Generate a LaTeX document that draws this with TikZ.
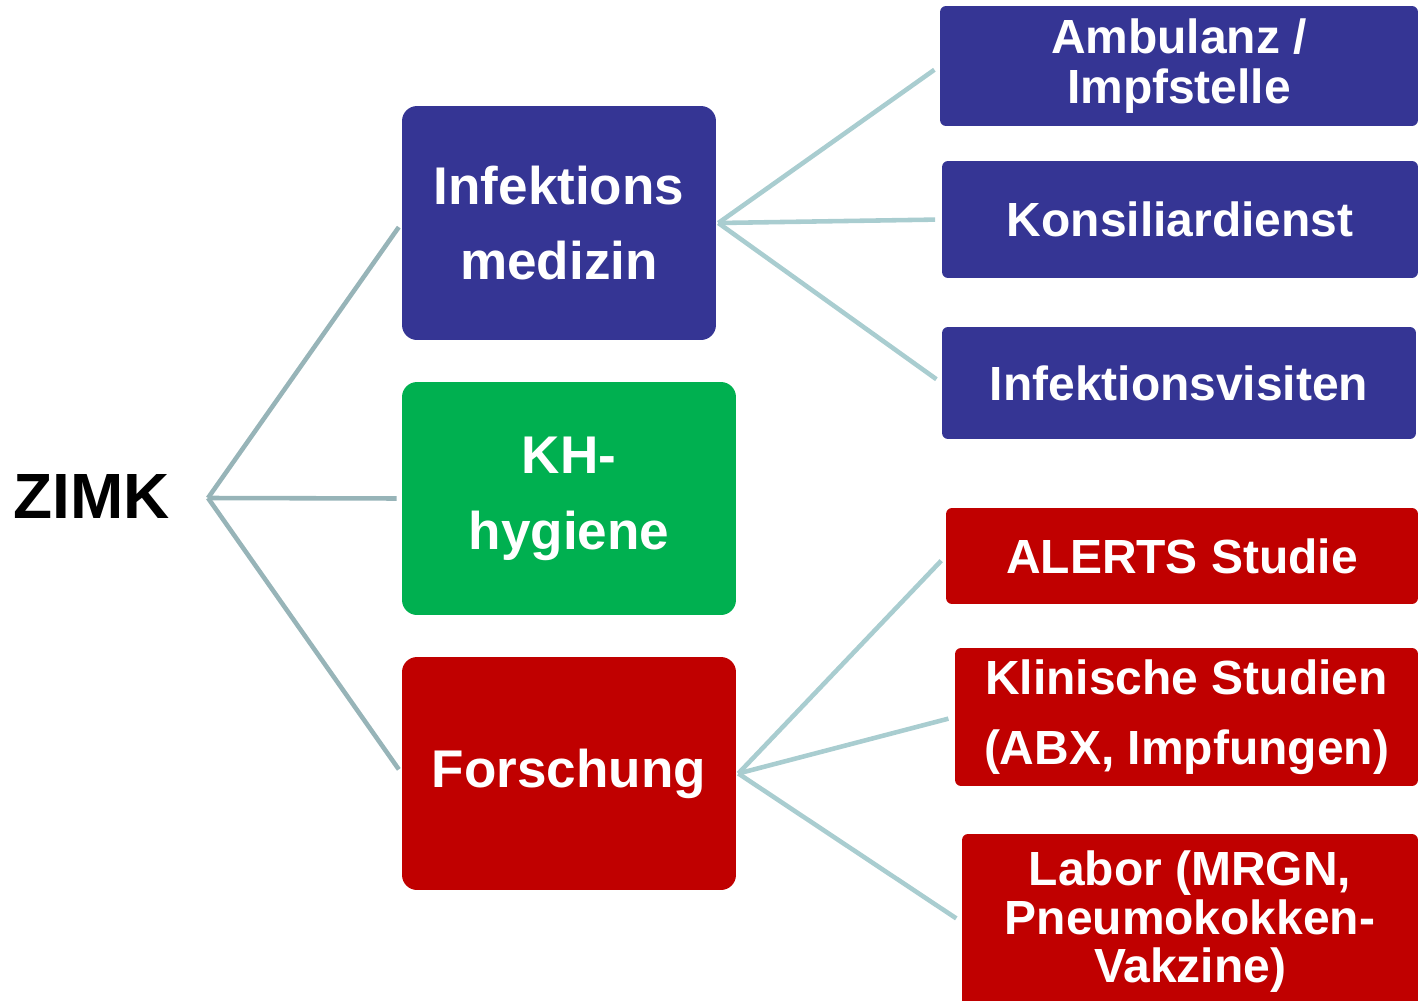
\documentclass[tikz,border=0pt]{standalone}
\usepackage{fontspec}
\setmainfont{Liberation Sans}
\usepackage{xcolor}
\usetikzlibrary{positioning,calc}

\definecolor{zblue}{HTML}{353594}
\definecolor{zgreen}{HTML}{00B050}
\definecolor{zred}{HTML}{C00000}
\definecolor{lineleft}{HTML}{97B4B8}
\definecolor{lineright}{HTML}{A9CDD0}

\begin{document}
\begin{tikzpicture}[
    x=0.02cm, y=-0.02cm,
    mainbox/.style={rectangle, rounded corners=0.3cm, inner sep=0pt, align=center, text=white,
        font=\fontsize{30.2}{43.2}\selectfont\bfseries},
    subbox/.style={rectangle, rounded corners=0.12cm, inner sep=0pt, align=center, text=white,
        font=\fontsize{27.3}{28.5}\selectfont\bfseries},
    link/.style={line width=2.6pt, lineleft, shorten >=0.1cm},
    sublink/.style={line width=2.6pt, lineright, shorten >=0.13cm}
]
\useasboundingbox (0,0) rectangle (1418,1001);

% Root
\node[font=\fontsize{36.4}{40}\selectfont\bfseries] (zimk) at (92,496) {ZIMK};

% Main areas
\node[mainbox, fill=zblue, minimum width=6.28cm, minimum height=4.68cm] (medizin) at (559,223) {Infektions\\medizin};
\node[mainbox, fill=zgreen, minimum width=6.68cm, minimum height=4.66cm] (hygiene) at (569,498.5) {KH-\\hygiene};
\node[mainbox, fill=zred, minimum width=6.68cm, minimum height=4.66cm] (forschung) at (569,773.5) {Forschung};

% Infektionsmedizin
\node[subbox, fill=zblue, minimum width=9.56cm, minimum height=2.4cm] (ambulanz) at (1179,66) {Ambulanz /\\Impfstelle};
\node[subbox, fill=zblue, minimum width=9.52cm, minimum height=2.34cm] (konsil) at (1180,219.5) {Konsiliardienst};
\node[subbox, fill=zblue, minimum width=9.48cm, minimum height=2.24cm] (visiten) at (1179,383) {Infektionsvisiten};

% Forschung
\node[subbox, fill=zred, minimum width=9.44cm, minimum height=1.92cm] (alerts) at (1182,556) {ALERTS Studie};
\node[subbox, fill=zred, minimum width=9.26cm, minimum height=2.76cm,
    font=\fontsize{27.3}{40}\selectfont\bfseries] (klinisch) at (1186.5,717) {Klinische Studien\\(ABX, Impfungen)};
\node[subbox, fill=zred, minimum width=9.12cm, minimum height=3.52cm,
    font=\fontsize{27.3}{27.6}\selectfont\bfseries] (labor) at (1190,922) {Labor (MRGN,\\Pneumokokken-\\Vakzine)};

% Fork points
\coordinate (zfork) at (208,498);
\coordinate (mfork) at ([xshift=0.04cm]medizin.east);
\coordinate (ffork) at ([xshift=0.04cm]forschung.east);

% Connectors
\draw[link] (zfork) -- (medizin.west);
\draw[link] (zfork) -- (hygiene.west);
\draw[link] (zfork) -- (forschung.west);
\draw[sublink] (mfork) -- (ambulanz.west);
\draw[sublink] (mfork) -- (konsil.west);
\draw[sublink] (mfork) -- (visiten.west);
\draw[sublink] (ffork) -- (alerts.west);
\draw[sublink] (ffork) -- (klinisch.west);
\draw[sublink] (ffork) -- (labor.west);

\end{tikzpicture}
\end{document}
